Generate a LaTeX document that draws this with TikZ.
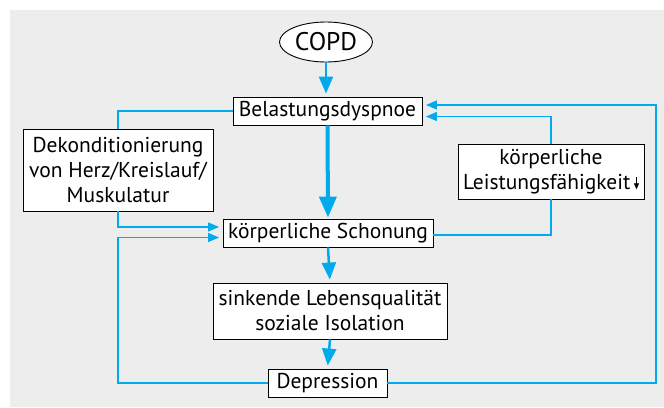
\documentclass[tikz,border=0pt]{standalone}
\usepackage{fontspec}
\setmainfont{PT Sans}
\usetikzlibrary{arrows.meta,shapes.geometric}
\definecolor{cblue}{RGB}{0,170,235}
\definecolor{bggray}{RGB}{237,237,237}
\newcommand\smalldown{\,\tikz[baseline=0pt]\draw[line width=0.8pt,-{Triangle[length=6pt,width=5pt]}] (0pt,12pt)--(0pt,0pt);}
\begin{document}
\begin{tikzpicture}[x=1pt,y=-1pt,
  box/.style={draw, fill=white, line width=0.9pt, inner sep=0pt, align=center,
    font=\fontsize{21.5}{25}\selectfont},
  conn/.style={cblue, line width=1.3pt},
  arr/.style={conn, shorten >=3.5pt, -{Triangle[length=11pt,width=9pt]}},
  vertarr/.style={cblue, line width=2.5pt, shorten >=3pt, -{Triangle[length=17pt,width=14pt]}},
  thickarr/.style={cblue, line width=4pt, shorten >=1pt, -{Triangle[length=21pt,width=17pt]}}]
\useasboundingbox (0,0) rectangle (664,407);
\fill[bggray] (10,10) rectangle (664,407);
\node[box, ellipse, minimum width=93pt, minimum height=40pt, font=\fontsize{25.5}{28}\selectfont] (copd) at (326,42) {COPD};
\node[box, minimum width=189pt, minimum height=28pt] (belast) at (327.5,111) {Belastungsdyspnoe};
\node[box, minimum width=190pt, minimum height=82pt] (dek) at (118,170) {Dekonditionierung\\von Herz/Kreislauf/\\Muskulatur};
\node[box, minimum width=186pt, minimum height=55pt] (leist) at (551,171.5) {körperliche\\Leistungsfähigkeit\smalldown};
\node[box, minimum width=210pt, minimum height=28pt] (schon) at (328,233) {körperliche Schonung};
\node[box, minimum width=234pt, minimum height=56pt] (sink) at (330,311) {sinkende Lebensqualität\\soziale Isolation};
\node[box, minimum width=119pt, minimum height=28pt] (depr) at (327.5,383) {Depression};
\coordinate (rc) at (656,383);
\draw[vertarr] (copd.south) -- (copd.south |- belast.north);
\draw[thickarr] (belast.south) -- (schon.north);
\draw[vertarr] (schon.south) -- (sink.north);
\draw[vertarr] (sink.south) -- (depr.north);
\draw[conn] (belast.west) -| (dek.north);
\draw[arr] (dek.south) |- ([yshift=6pt]schon.west);
\draw[arr] (depr.west) -- (depr.west -| dek.south) |- ([yshift=-4.5pt]schon.west);
\draw[conn] ([yshift=-2pt]schon.east) -| (leist.south);
\draw[arr] (leist.north) |- ([yshift=-5.5pt]belast.east);
\draw[arr] (depr.east) -- (rc) |- ([yshift=6pt]belast.east);
\end{tikzpicture}
\end{document}
